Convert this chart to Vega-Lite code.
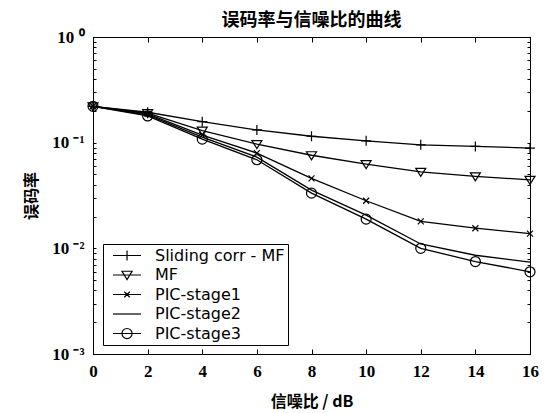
{
  "$schema": "https://vega.github.io/schema/vega-lite/v6.json",
  "width": 437,
  "height": 317,
  "autosize": "none",
  "padding": {"left": 93, "top": 37, "right": 28, "bottom": 59},
  "background": "white",
  "config": {
    "view": {"stroke": "black", "strokeWidth": 1},
    "axis": {"domainColor": "black", "tickColor": "black", "labelColor": "black", "titleColor": "black", "grid": false, "labelFlush": false}
  },
  "title": {
    "text": "误码率与信噪比的曲线",
    "font": "Noto Sans CJK SC",
    "fontSize": 18,
    "fontWeight": "bold",
    "color": "black",
    "anchor": "middle",
    "offset": -2
  },
  "data": {
    "values": [
      {"snr": 0, "ber": 0.221, "s": "Sliding corr - MF"},
      {"snr": 2, "ber": 0.194, "s": "Sliding corr - MF"},
      {"snr": 4, "ber": 0.158, "s": "Sliding corr - MF"},
      {"snr": 6, "ber": 0.132, "s": "Sliding corr - MF"},
      {"snr": 8, "ber": 0.115, "s": "Sliding corr - MF"},
      {"snr": 10, "ber": 0.104, "s": "Sliding corr - MF"},
      {"snr": 12, "ber": 0.0955, "s": "Sliding corr - MF"},
      {"snr": 14, "ber": 0.0922, "s": "Sliding corr - MF"},
      {"snr": 16, "ber": 0.0889, "s": "Sliding corr - MF"},
      {"snr": 0, "ber": 0.221, "s": "MF"},
      {"snr": 2, "ber": 0.19, "s": "MF"},
      {"snr": 4, "ber": 0.13, "s": "MF"},
      {"snr": 6, "ber": 0.097, "s": "MF"},
      {"snr": 8, "ber": 0.076, "s": "MF"},
      {"snr": 10, "ber": 0.0627, "s": "MF"},
      {"snr": 12, "ber": 0.053, "s": "MF"},
      {"snr": 14, "ber": 0.048, "s": "MF"},
      {"snr": 16, "ber": 0.0445, "s": "MF"},
      {"snr": 0, "ber": 0.221, "s": "PIC-stage1"},
      {"snr": 2, "ber": 0.187, "s": "PIC-stage1"},
      {"snr": 4, "ber": 0.118, "s": "PIC-stage1"},
      {"snr": 6, "ber": 0.0797, "s": "PIC-stage1"},
      {"snr": 8, "ber": 0.0459, "s": "PIC-stage1"},
      {"snr": 10, "ber": 0.0282, "s": "PIC-stage1"},
      {"snr": 12, "ber": 0.018, "s": "PIC-stage1"},
      {"snr": 14, "ber": 0.0155, "s": "PIC-stage1"},
      {"snr": 16, "ber": 0.0138, "s": "PIC-stage1"},
      {"snr": 0, "ber": 0.221, "s": "PIC-stage2"},
      {"snr": 2, "ber": 0.183, "s": "PIC-stage2"},
      {"snr": 4, "ber": 0.113, "s": "PIC-stage2"},
      {"snr": 6, "ber": 0.073, "s": "PIC-stage2"},
      {"snr": 8, "ber": 0.0356, "s": "PIC-stage2"},
      {"snr": 10, "ber": 0.0206, "s": "PIC-stage2"},
      {"snr": 12, "ber": 0.011, "s": "PIC-stage2"},
      {"snr": 14, "ber": 0.0086, "s": "PIC-stage2"},
      {"snr": 16, "ber": 0.0074, "s": "PIC-stage2"},
      {"snr": 0, "ber": 0.221, "s": "PIC-stage3"},
      {"snr": 2, "ber": 0.179, "s": "PIC-stage3"},
      {"snr": 4, "ber": 0.108, "s": "PIC-stage3"},
      {"snr": 6, "ber": 0.0689, "s": "PIC-stage3"},
      {"snr": 8, "ber": 0.0333, "s": "PIC-stage3"},
      {"snr": 10, "ber": 0.0189, "s": "PIC-stage3"},
      {"snr": 12, "ber": 0.01, "s": "PIC-stage3"},
      {"snr": 14, "ber": 0.0075, "s": "PIC-stage3"},
      {"snr": 16, "ber": 0.006, "s": "PIC-stage3"}
    ]
  },
  "resolve": {
    "axis": {"x": "independent", "y": "independent"},
    "scale": {"shape": "independent"},
    "legend": {"shape": "independent"}
  },
  "layer": [
    {
      "mark": {"type": "line", "color": "black", "strokeWidth": 1.3},
      "encoding": {
        "x": {
          "field": "snr", "type": "quantitative",
          "scale": {"domain": [0, 16], "nice": false},
          "axis": {
            "orient": "bottom",
            "values": [0, 2, 4, 6, 8, 10, 12, 14, 16],
            "tickSize": -5,
            "labelFont": "Liberation Serif", "labelFontSize": 17, "labelFontWeight": "bold",
            "labelPadding": 14,
            "title": "信噪比 / dB",
            "titleFont": "Noto Sans CJK SC", "titleFontSize": 16, "titleFontWeight": "bold",
            "titlePadding": 14
          }
        },
        "y": {
          "field": "ber", "type": "quantitative",
          "scale": {"type": "log", "domain": [0.001, 1], "nice": false},
          "axis": {
            "orient": "left",
            "values": [0.001, 0.002, 0.003, 0.004, 0.005, 0.006, 0.007, 0.008, 0.009, 0.01, 0.02, 0.03, 0.04, 0.05, 0.06, 0.07, 0.08, 0.09, 0.1, 0.2, 0.3, 0.4, 0.5, 0.6, 0.7, 0.8, 0.9, 1],
            "labelExpr": "datum.value == 1 ? '10 ⁰' : datum.value == 0.1 ? '10 ⁻¹' : datum.value == 0.01 ? '10 ⁻²' : datum.value == 0.001 ? '10 ⁻³' : ''",
            "labelOverlap": false,
            "labelBound": false,
            "tickSize": -3,
            "labelFont": "Liberation Serif", "labelFontSize": 17, "labelFontWeight": "bold",
            "labelPadding": 12,
            "title": "误码率",
            "titleFont": "Noto Sans CJK SC", "titleFontSize": 16, "titleFontWeight": "bold",
            "titlePadding": 12
          }
        },
        "detail": {"field": "s"}
      }
    },
    {
      "mark": {"type": "point", "filled": false, "stroke": "black", "strokeWidth": 1.2, "size": 100, "opacity": 1},
      "encoding": {
        "x": {"field": "snr", "type": "quantitative", "axis": null},
        "y": {"field": "ber", "type": "quantitative", "axis": null},
        "shape": {
          "field": "s", "type": "nominal",
          "scale": {
            "domain": ["Sliding corr - MF", "MF", "PIC-stage1", "PIC-stage2", "PIC-stage3"],
            "range": [
              "M-1,0H1M0,-1V1",
              "M-1,-0.7L1,-0.7L0,0.9Z",
              "M-0.6,-0.6L0.6,0.6M-0.6,0.6L0.6,-0.6",
              "M0,0",
              "M1,0A1,1 0 1,1 -1,0A1,1 0 1,1 1,0Z"
            ]
          },
          "legend": null
        }
      }
    },
    {
      "mark": {"type": "point", "opacity": 0},
      "encoding": {
        "x": {
          "field": "snr", "type": "quantitative",
          "axis": {"orient": "top", "values": [0, 2, 4, 6, 8, 10, 12, 14, 16], "labels": false, "tickSize": -5, "title": null}
        },
        "y": {
          "field": "ber", "type": "quantitative",
          "axis": {
            "orient": "right",
            "values": [0.001, 0.002, 0.003, 0.004, 0.005, 0.006, 0.007, 0.008, 0.009, 0.01, 0.02, 0.03, 0.04, 0.05, 0.06, 0.07, 0.08, 0.09, 0.1, 0.2, 0.3, 0.4, 0.5, 0.6, 0.7, 0.8, 0.9, 1],
            "labels": false, "tickSize": -3, "title": null
          }
        }
      }
    },
    {
      "transform": [{"filter": "datum.snr < 0"}],
      "mark": {"type": "point", "filled": false, "stroke": "black", "strokeWidth": 1.2},
      "encoding": {
        "x": {"field": "snr", "type": "quantitative", "axis": null},
        "y": {"field": "ber", "type": "quantitative", "axis": null},
        "shape": {
          "field": "s", "type": "nominal",
          "scale": {
            "domain": ["Sliding corr - MF", "MF", "PIC-stage1", "PIC-stage2", "PIC-stage3"],
            "range": [
              "M-0.2,0H3.53M1.67,-0.67V0.67",
              "M-0.2,0H3.53M1.0,-0.5L2.34,-0.5L1.67,0.6Z",
              "M-0.2,0H3.53M1.3,-0.37L2.04,0.37M1.3,0.37L2.04,-0.37",
              "M-0.2,0H3.53",
              "M-0.2,0H3.53M2.34,0A0.67,0.67 0 1,1 1.0,0A0.67,0.67 0 1,1 2.34,0Z"
            ]
          },
          "legend": {
            "title": null,
            "orient": "none",
            "legendX": 10,
            "legendY": 207,
            "padding": 3,
            "rowPadding": 2.5,
            "symbolSize": 225,
            "labelOffset": 32,
            "labelFont": "DejaVu Sans",
            "labelFontSize": 16,
            "labelColor": "black",
            "strokeColor": "black",
            "fillColor": "white",
            "symbolStrokeColor": "black",
            "symbolStrokeWidth": 1.2,
            "symbolFillColor": "transparent",
            "symbolOpacity": 1
          }
        }
      }
    }
  ]
}
